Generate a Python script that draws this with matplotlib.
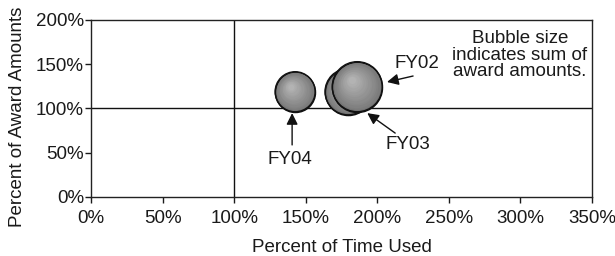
import numpy as np
import matplotlib
matplotlib.use("Agg")
import matplotlib.pyplot as plt
from matplotlib.transforms import ScaledTranslation

plt.rcParams['font.family'] = ['Liberation Sans', 'DejaVu Sans']

# data (percent)
years = ["FY04", "FY03", "FY02"]
time_used = [142.6, 179.6, 186.0]
award_pct = [118.8, 118.8, 124.5]
award_sum = [0.64, 0.85, 1.00]   # relative to FY02

# label + arrow positions (data units)
label_xy = {"FY02": (227.4, 151.3), "FY03": (221.5, 58.6), "FY04": (139.0, 41.6)}
arrow_tail = {"FY02": (225.0, 136.6), "FY03": (212.5, 72.0), "FY04": (140.5, 58.6)}
arrow_head = {"FY02": (206.8, 129.8), "FY03": (193.0, 94.6), "FY04": (140.5, 94.6)}

xticks = [0, 50, 100, 150, 200, 250, 300, 350]
yticks = [0, 50, 100, 150, 200]

fig = plt.figure(figsize=(6.15, 2.56), dpi=100)
ax = fig.add_axes([91 / 615, 1 - 196.7 / 256, (592 - 91) / 615, (196.7 - 20) / 256])
ax.set_xlim(0, 350)
ax.set_ylim(0, 200)

txt = '#1a1a1a'
fs = 13.5

ax.axvline(100, color='#111111', lw=1.0, zorder=1)
ax.axhline(100, color='#111111', lw=1.0, zorder=1)

# shaded bubbles: stack of shrinking discs shifted up-left
base = 1300.0
nlay = 14
for x, y, a in zip(time_used, award_pct, award_sum):
    s = base * a
    d = np.sqrt(s)  # diameter in points
    ax.scatter([x], [y], s=s, color='#737373', edgecolors='#111111',
               linewidths=1.0, zorder=3)
    for k in range(1, nlay):
        t = k / nlay
        dk = d * (1 - 0.92 * t)
        off = ScaledTranslation(-0.12 * d * t / 72, 0.14 * d * t / 72, fig.dpi_scale_trans)
        g = 0.47 + 0.25 * t
        ax.scatter([x], [y], s=dk ** 2, color=(g, g, g), linewidths=0,
                   transform=ax.transData + off, zorder=3)
    ax.scatter([x], [y], s=s, facecolors='none', edgecolors='#111111',
               linewidths=1.0, zorder=3)

for yr in years:
    lx, ly = label_xy[yr]
    ax.text(lx, ly, yr, ha='center', va='center', fontsize=fs, color=txt)
    ax.annotate('', xy=arrow_head[yr], xytext=arrow_tail[yr],
                arrowprops=dict(arrowstyle='-|>', color='#111111', lw=1.0,
                                mutation_scale=17, shrinkA=0, shrinkB=0))

ax.text(299.5, 160.3, "Bubble size\nindicates sum of\naward amounts.",
        ha='center', va='center', fontsize=fs, color=txt, linespacing=0.98)

ax.set_xticks(xticks)
ax.set_xticklabels([f"{v}%" for v in xticks])
ax.set_yticks(yticks)
ax.set_yticklabels([f"{v}%" for v in yticks])
ax.tick_params(axis='x', direction='out', length=4, width=1, pad=5.5,
               labelsize=fs, colors=txt)
ax.tick_params(axis='y', direction='out', length=4, width=1, pad=1,
               labelsize=fs, colors=txt)
for sp in ax.spines.values():
    sp.set_color('#222222')
    sp.set_linewidth(1.0)

ax.set_xlabel("Percent of Time Used", fontsize=fs, color=txt, labelpad=9)
ax.set_ylabel("Percent of Award Amounts", fontsize=fs, color=txt)
ax.yaxis.set_label_coords(-0.13, 0.45)

fig.savefig("out.png", dpi=100)
